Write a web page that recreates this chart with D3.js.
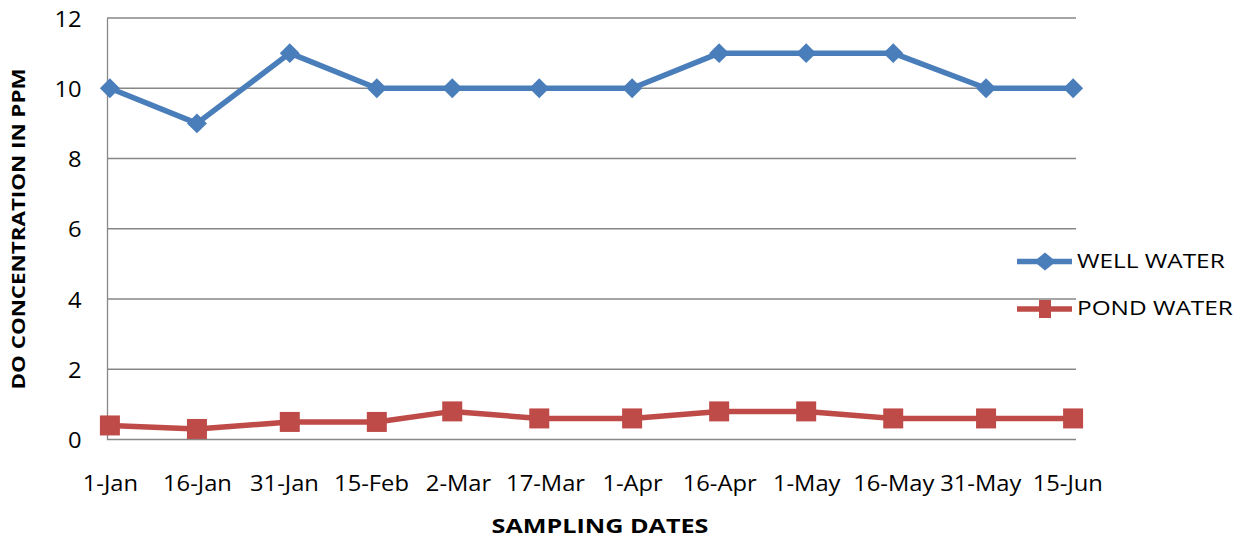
<!DOCTYPE html>
<html>
<head>
<meta charset="utf-8">
<script src="https://cdn.jsdelivr.net/npm/d3@7"></script>
<style>
  html, body { margin: 0; padding: 0; background: #fff; }
  svg { display: block; font-family: "Open Sans", "Liberation Sans", sans-serif; }
</style>
</head>
<body>
<svg id="chart" width="1243" height="548"></svg>
<script>
// Sampling dates (1st and 16th of each month)
const sampleDates = ["2011-01-01", "2011-01-16", "2011-02-01", "2011-02-16", "2011-03-01", "2011-03-16",
                     "2011-04-01", "2011-04-16", "2011-05-01", "2011-05-16", "2011-06-01", "2011-06-16"];
// Dissolved oxygen, ppm
const wellWater = [10, 9, 11, 10, 10, 10, 10, 11, 11, 11, 10, 10];
const pondWater = [0.4, 0.3, 0.5, 0.5, 0.8, 0.6, 0.6, 0.8, 0.8, 0.6, 0.6, 0.6];
// Date axis labels every 15 days
const tickDates = ["2011-01-01", "2011-01-16", "2011-01-31", "2011-02-15", "2011-03-02", "2011-03-17",
                   "2011-04-01", "2011-04-16", "2011-05-01", "2011-05-16", "2011-05-31", "2011-06-15"];
const yTicks = [0, 2, 4, 6, 8, 10, 12];
const seriesNames = ["WELL WATER", "POND WATER"];
const axisStart = "2011-01-01", axisEnd = "2011-06-17";

const BLUE = "#4A7EBB", RED = "#BE4B48", GRID = "#878787";
const TICK_STRETCH = 1.13;  // wide lettering for tick labels
const TITLE_STRETCH = 1.29;
const LEGEND_STRETCH = 1.25;

const svg = d3.select("#chart");
const parse = d3.utcParse("%Y-%m-%d");
const HALF_DAY = 12 * 3600 * 1000;
const mid = s => new Date(parse(s).getTime() + HALF_DAY);

const x = d3.scaleUtc().domain([parse(axisStart), parse(axisEnd)]).range([107, 1076]);
const y = d3.scaleLinear().domain([0, 12]).range([439.5, 18]);

// Horizontal gridlines
svg.append("g").selectAll("line").data(yTicks).join("line")
  .attr("x1", x.range()[0]).attr("x2", x.range()[1])
  .attr("y1", d => y(d)).attr("y2", d => y(d))
  .attr("stroke", GRID).attr("stroke-width", 1.3);

// Y axis
const yAxis = svg.append("g").attr("transform", `translate(${x.range()[0]},0)`)
  .call(d3.axisLeft(y).tickValues(yTicks).tickSize(0).tickFormat(d3.format("d")));
yAxis.select(".domain").attr("stroke", GRID).attr("stroke-width", 1.3);
yAxis.selectAll("text")
  .attr("x", 0).attr("dy", "0.36em")
  .attr("transform", `translate(-25.5,0.5) scale(${TICK_STRETCH},1)`)
  .attr("font-size", 21).attr("font-family", "Open Sans").attr("fill", "#000");

// X axis labels (centred on each day)
const fmt = d3.utcFormat("%-d-%b");
const xAxis = svg.append("g").attr("transform", `translate(0,${y(0)})`)
  .call(d3.axisBottom(x).tickValues(tickDates.map(mid)).tickSize(0).tickFormat(fmt));
xAxis.select(".domain").remove();
xAxis.selectAll("text")
  .attr("y", 0).attr("dy", "0.36em")
  .attr("transform", `translate(0,43.5) scale(${TICK_STRETCH},1)`)
  .attr("font-size", 21).attr("font-family", "Open Sans").attr("fill", "#000");

// Series
const series = [
  { name: seriesNames[0], values: wellWater, color: BLUE, shape: "diamond" },
  { name: seriesNames[1], values: pondWater, color: RED, shape: "square" }
];
const line = d3.line().x(d => x(mid(d.date))).y(d => y(d.v));
const diamond = d3.symbol().type(d3.symbolSquare).size(200);

series.forEach(s => {
  const pts = sampleDates.map((d, i) => ({ date: d, v: s.values[i] }));
  svg.append("path").datum(pts)
    .attr("d", line).attr("fill", "none")
    .attr("stroke", s.color).attr("stroke-width", 5.5).attr("stroke-linejoin", "round");
  const g = svg.append("g");
  if (s.shape === "diamond") {
    g.selectAll("path").data(pts).join("path")
      .attr("d", diamond)
      .attr("transform", d => `translate(${x(mid(d.date))},${y(d.v)}) rotate(45)`)
      .attr("fill", s.color);
  } else {
    g.selectAll("rect").data(pts).join("rect")
      .attr("x", d => x(mid(d.date)) - 10).attr("y", d => y(d.v) - 10)
      .attr("width", 20).attr("height", 20)
      .attr("fill", s.color);
  }
});

// Legend
const legend = svg.append("g");
series.forEach((s, i) => {
  const ly = 261.5 + i * 47.5;
  legend.append("line").attr("x1", 1017).attr("x2", 1072).attr("y1", ly).attr("y2", ly)
    .attr("stroke", s.color).attr("stroke-width", 5.5);
  if (s.shape === "diamond") {
    legend.append("path").attr("d", diamond)
      .attr("transform", `translate(1045,${ly}) scale(1.1,0.9) rotate(45)`).attr("fill", s.color);
  } else {
    legend.append("rect").attr("x", 1045 - 6).attr("y", ly - 9).attr("width", 12).attr("height", 18)
      .attr("fill", s.color);
  }
  legend.append("text").text(s.name)
    .attr("dy", "0.36em")
    .attr("transform", `translate(1077,${ly - 1}) scale(${LEGEND_STRETCH},1)`)
    .attr("font-size", 19.5).attr("fill", "#000");
});

// Axis titles
svg.append("text").text("SAMPLING DATES")
  .attr("text-anchor", "middle").attr("dy", "0.36em")
  .attr("transform", `translate(600,525.5) scale(${TITLE_STRETCH},1)`)
  .attr("font-size", 19.5).attr("font-weight", "bold").attr("fill", "#000");

svg.append("text").text("DO CONCENTRATION IN PPM")
  .attr("text-anchor", "middle").attr("dy", "0.36em")
  .attr("transform", `translate(19,229) rotate(-90) scale(1.3,1)`)
  .attr("font-size", 17.2).attr("font-weight", "bold").attr("fill", "#000");
</script>
</body>
</html>
